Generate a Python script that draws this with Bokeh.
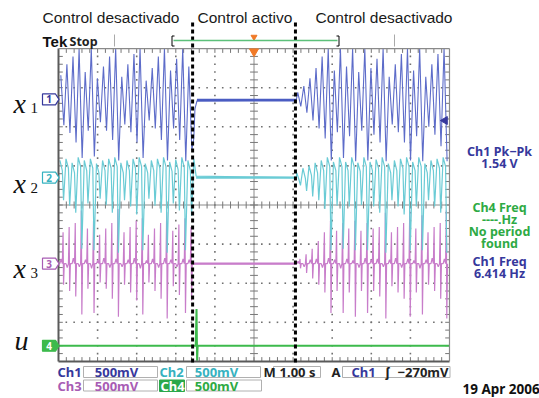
import numpy as np
from bokeh.plotting import figure
from bokeh.models import Range1d, Label
from bokeh.embed import file_html
from bokeh.resources import INLINE

# ---------------- data ----------------
ch1_freq_hz = 6.414          # "Ch1 Freq" readout
time_per_div_s = 1.00        # M 1.00 s
volts_per_div = 0.5          # every channel 500 mV/div
trigger_level_v = -0.27      # A Ch1 -270mV
t_control_on = 3.43          # s, control switched on
t_control_off = 6.06         # s, control switched off
t_pre_start = 0.02
t_post_start = 6.08

# channel ground markers, divisions from screen centre
ch_pos_div = [2.70, 0.70, -1.50, -3.60]

# Ch1 (x1): per-cycle maxima / minima, volts
ch1_pre_max = [0.31, 0.45, 0.55, 0.75, 0.35, 0.73, 0.27, 0.42, 0.55, 0.75, 0.29,
               0.45, 0.58, 0.75, 0.24, 0.40, 0.55, 0.75, 0.37, 0.52, 0.75, 0.42]
ch1_pre_min = [-0.33, -0.43, -0.55, -0.75, -0.40, -0.73, -0.29, -0.40, -0.52, -0.78, -0.32,
               -0.42, -0.55, -0.75, -0.27, -0.37, -0.52, -0.78, -0.37, -0.52, -0.79, -0.65]
ch1_post_max = [0.09, 0.17, 0.27, 0.40, 0.55, 0.75, 0.37, 0.73, 0.42, 0.75, 0.35, 0.73, 0.40,
                0.52, 0.75, 0.29, 0.45, 0.58, 0.75, 0.37, 0.75, 0.29, 0.45, 0.58, 0.75]
ch1_post_min = [-0.09, -0.17, -0.27, -0.37, -0.50, -0.78, -0.42, -0.75, -0.47, -0.79, -0.40, -0.78, -0.45,
                -0.55, -0.79, -0.32, -0.42, -0.55, -0.78, -0.47, -0.79, -0.35, -0.45, -0.60, -0.79]
ch1_on_t = [3.46, 3.49, 3.54]
ch1_on_v = [-0.50, -0.12, -0.02]
ch1_ctrl_v = -0.01

# Ch2 (x2): per-cycle peak, shoulder, dip, volts
ch2_pre_peak = [0.22, 0.24, 0.19, 0.26, 0.22, 0.24, 0.18, 0.22, 0.24, 0.26, 0.19,
                0.22, 0.24, 0.26, 0.18, 0.22, 0.24, 0.26, 0.20, 0.23, 0.26, 0.22]
ch2_pre_shoulder = [0.09, 0.12, 0.06, 0.14, 0.09, 0.12, 0.06, 0.09, 0.12, 0.14, 0.06,
                    0.09, 0.12, 0.14, 0.06, 0.09, 0.12, 0.14, 0.08, 0.10, 0.13, 0.09]
ch2_pre_dip = [-0.29, -0.36, -0.45, -0.91, -0.33, -0.93, -0.27, -0.35, -0.45, -0.96, -0.29,
               -0.37, -0.47, -0.93, -0.27, -0.36, -0.45, -0.96, -0.33, -0.42, -0.93, -0.49]
ch2_post_peak = [0.06, 0.12, 0.15, 0.19, 0.22, 0.26, 0.20, 0.26, 0.20, 0.26, 0.19, 0.26, 0.20,
                 0.23, 0.26, 0.18, 0.22, 0.24, 0.26, 0.20, 0.26, 0.18, 0.22, 0.24, 0.26]
ch2_post_shoulder = [-0.04, -0.01, 0.03, 0.06, 0.09, 0.14, 0.09, 0.14, 0.09, 0.14, 0.08, 0.14, 0.09,
                     0.12, 0.14, 0.06, 0.09, 0.12, 0.14, 0.09, 0.14, 0.06, 0.09, 0.12, 0.14]
ch2_post_dip = [-0.10, -0.17, -0.24, -0.29, -0.40, -0.93, -0.36, -0.91, -0.37, -0.93, -0.35, -0.93, -0.37,
                -0.45, -0.96, -0.29, -0.37, -0.47, -0.93, -0.37, -0.93, -0.29, -0.37, -0.45, -0.96]
ch2_on_t = [3.46, 3.52]
ch2_on_v = [0.24, 0.02]
ch2_ctrl_v = 0.0

# Ch3 (x3): per-cycle small wiggle, up spike, down spike, volts
ch3_pre_wig = [0.06, -0.05, 0.07, -0.04, 0.05, -0.06, 0.04, 0.07, -0.05, 0.06, -0.04,
               0.05, 0.07, -0.06, 0.04, 0.06, -0.05, 0.07, 0.05, -0.04, 0.06, 0.05]
ch3_pre_up = [0.40, 0.47, 0.52, 0.68, 0.45, 0.55, 0.37, 0.45, 0.52, 0.70, 0.40,
              0.47, 0.55, 0.58, 0.37, 0.45, 0.52, 0.66, 0.42, 0.50, 0.58, 0.47]
ch3_pre_down = [-0.27, -0.35, -0.42, -0.65, -0.32, -0.63, -0.24, -0.32, -0.45, -0.68, -0.27,
                -0.37, -0.47, -0.65, -0.24, -0.35, -0.45, -0.70, -0.29, -0.40, -0.63, -0.47]
ch3_post_wig = [0.03, -0.04, 0.05, 0.06, -0.05, 0.07, 0.05, -0.06, 0.06, 0.04, -0.05, 0.07, 0.05,
                0.06, -0.04, 0.05, 0.07, -0.05, 0.06, 0.04, -0.06, 0.05, 0.07, -0.04, 0.06]
ch3_post_up = [0.06, 0.12, 0.19, 0.29, 0.40, 0.55, 0.42, 0.52, 0.45, 0.55, 0.42, 0.52, 0.45,
               0.47, 0.65, 0.40, 0.47, 0.52, 0.68, 0.45, 0.62, 0.40, 0.47, 0.52, 0.68]
ch3_post_down = [-0.06, -0.12, -0.19, -0.27, -0.37, -0.63, -0.35, -0.63, -0.37, -0.68, -0.35, -0.63, -0.35,
                 -0.42, -0.70, -0.29, -0.37, -0.45, -0.68, -0.37, -0.65, -0.27, -0.35, -0.45, -0.70]
ch3_ctrl_v = 0.0

# Ch4 (u): control signal
ch4_t = [0.0, 3.51, 3.53, 3.545, 3.56, 10.0]
ch4_v = [0.0, 0.0, 0.47, -0.19, 0.0, 0.0]

# ---------------- styling ----------------
ch_color = ["#5d6cc9", "#6acbd5", "#c87dca", "#3dba4c"]
ch_text = ["#36389c", "#36b2c0", "#a85cb4", "#2eaa44"]

PX_PER_DIV = 39.1
X0_PX = 58.0
YC_PX = 204.5


def X(px):
    return (px - X0_PX) / PX_PER_DIV * time_per_div_s


def Y(py):
    return (YC_PX - py) / PX_PER_DIV


T = 1.0 / ch1_freq_hz


def ch1_cycles(maxs, mins, t_start):
    t, v = [], []
    for k, (a, b) in enumerate(zip(maxs, mins)):
        t0 = t_start + k * T
        t += [t0 + 0.25 * T, t0 + 0.75 * T]
        v += [a, b]
    return t, v


def ch2_cycles(peaks, shoulders, dips, t_start):
    t, v = [], []
    for k, (a, b, c) in enumerate(zip(peaks, shoulders, dips)):
        t0 = t_start + k * T
        t += [t0 + 0.1 * T, t0 + 0.5 * T, t0 + 0.7 * T]
        v += [a, b, c]
    return t, v


def ch3_cycles(wigs, ups, downs, t_start, base):
    t, v = [], []
    for k, (w, a, b) in enumerate(zip(wigs, ups, downs)):
        t0 = t_start + k * T
        t += [t0 + 0.1 * T, t0 + 0.3 * T, t0 + 0.5 * T, t0 + 0.62 * T, t0 + 0.7 * T, t0 + 0.82 * T]
        v += [base, w, base, a, b, base]
    return t, v


def to_div(v, ch):
    return np.clip(ch_pos_div[ch] + np.asarray(v) / volts_per_div, -4.0, 4.0)


# assemble traces
t1a, v1a = ch1_cycles(ch1_pre_max, ch1_pre_min, t_pre_start)
t1b, v1b = ch1_cycles(ch1_post_max, ch1_post_min, t_post_start)
ch1_t = t1a + ch1_on_t + [t_post_start] + t1b
ch1_v = v1a + ch1_on_v + [ch1_ctrl_v] + v1b

t2a, v2a = ch2_cycles(ch2_pre_peak, ch2_pre_shoulder, ch2_pre_dip, t_pre_start)
t2b, v2b = ch2_cycles(ch2_post_peak, ch2_post_shoulder, ch2_post_dip, t_post_start)
ch2_t = t2a + ch2_on_t + [t_post_start] + t2b
ch2_v = v2a + ch2_on_v + [ch2_ctrl_v] + v2b

t3a, v3a = ch3_cycles(ch3_pre_wig, ch3_pre_up, ch3_pre_down, t_pre_start, ch3_ctrl_v)
t3b, v3b = ch3_cycles(ch3_post_wig, ch3_post_up, ch3_post_down, t_post_start, ch3_ctrl_v)
ch3_t = t3a + [t_post_start] + t3b
ch3_v = v3a + [ch3_ctrl_v] + v3b

pkpk = max(ch1_v) - min(ch1_v)

# ---------------- figure ----------------
p = figure(width=539, height=398,
           x_range=Range1d(X(0), X(539)), y_range=Range1d(Y(398), Y(0)),
           output_backend="svg", toolbar_location=None,
           x_axis_location=None, y_axis_location=None,
           min_border=0, outline_line_color=None,
           background_fill_color="white", border_fill_color="white")
p.grid.visible = False

# graticule: dotted division lines (dots at every minor division)
gx = [t for t in range(1, 10) if t != 5]
gy = [d for d in range(-3, 4) if d != 0]
mx = np.round(np.arange(0.2, 10.0, 0.2), 2)
my = np.round(np.arange(-3.8, 4.0, 0.2), 2)
dot_x = [g for g in gx for _ in my] + [m for _ in gy for m in mx]
dot_y = [m for _ in gx for m in my] + [g for g in gy for _ in mx]
p.scatter(x=dot_x, y=dot_y, marker="square", size=1.6, fill_color="#707070", line_color=None)

# centre cross and rulers
p.line([5, 5], [-4, 4], line_color="#8a8a8a", line_width=1)
p.line([0, 10], [0, 0], line_color="#8a8a8a", line_width=1)
p.segment(x0=mx, x1=mx, y0=-0.09, y1=0.09, line_color="#777", line_width=1)
p.segment(x0=4.9, x1=5.1, y0=my, y1=my, line_color="#777", line_width=1)
p.segment(x0=mx, x1=mx, y0=4.0, y1=3.89, line_color="#777", line_width=1)
p.segment(x0=mx, x1=mx, y0=-4.0, y1=-3.89, line_color="#777", line_width=1)
p.segment(x0=0.0, x1=0.11, y0=my, y1=my, line_color="#777", line_width=1)
p.segment(x0=10.0, x1=9.89, y0=my, y1=my, line_color="#777", line_width=1)

# traces
p.line(ch4_t, to_div(ch4_v, 3), line_color=ch_color[3], line_width=2)
p.line(ch3_t, to_div(ch3_v, 2), line_color=ch_color[2], line_width=1.2)
p.line([t3a[-1], t_post_start], to_div([ch3_ctrl_v, ch3_ctrl_v], 2), line_color=ch_color[2], line_width=2.2)
p.line(ch2_t, to_div(ch2_v, 1), line_color=ch_color[1], line_width=1.2)
p.line([ch2_on_t[-1], t_post_start], to_div([ch2_ctrl_v, ch2_ctrl_v], 1), line_color=ch_color[1], line_width=2.2)
p.line(ch1_t, to_div(ch1_v, 0), line_color=ch_color[0], line_width=1.1)
p.line([ch1_on_t[-1], t_post_start], to_div([ch1_ctrl_v, ch1_ctrl_v], 0), line_color="#4a5cc2", line_width=2.8)

# screen border
p.line([0, 0], [-4, 4], line_color="#5a5a5a", line_width=2)
p.line([0, 10], [-4, -4], line_color="#5a5a5a", line_width=2)
p.line([0, 10], [4, 4], line_color="#8a8a8a", line_width=1.2)
p.line([10, 10], [-4, 4], line_color="#8a8a8a", line_width=1.2)

# control switching instants
p.segment(x0=[t_control_on, t_control_off], x1=[t_control_on, t_control_off],
          y0=Y(362), y1=Y(21), line_color="black", line_width=3, line_dash="4 3")

# trigger position / level markers
p.scatter(x=[5.0], y=[Y(51)], marker="inverted_triangle", size=9, fill_color="#f07a28", line_color="#f07a28")
p.scatter(x=[5.0], y=[Y(36.5)], marker="inverted_triangle", size=6, fill_color="#f07a28", line_color="#f07a28")
p.scatter(x=[X(444.5)], y=[ch_pos_div[0] + trigger_level_v / volts_per_div], marker="triangle",
          angle=np.pi / 2, size=8, fill_color=ch_text[0], line_color=ch_text[0])

# record bar
p.segment(x0=[X(114), X(394)], x1=[X(114), X(394)], y0=Y(34), y1=Y(46), line_color="#aaaaaa", line_width=1)
p.line([X(173), X(337)], [Y(40), Y(40)], line_color="#5cc07a", line_width=1.5)
p.line([X(174), X(171.5), X(171.5), X(174)], [Y(35.5), Y(35.5), Y(45.5), Y(45.5)], line_color="black", line_width=1)
p.line([X(336), X(338.5), X(338.5), X(336)], [Y(35.5), Y(35.5), Y(45.5), Y(45.5)], line_color="black", line_width=1)

# channel ground markers
mk_xs, mk_ys = [], []
for d in ch_pos_div:
    mk_xs.append([X(42), X(55), X(58.5), X(55), X(42)])
    mk_ys.append([d + 0.14, d + 0.14, d, d - 0.14, d - 0.14])
p.patches(mk_xs, mk_ys, fill_color=["white", "white", "white", ch_color[3]],
          line_color=ch_text[:3] + [ch_color[3]], line_width=1.2)


def txt(px, py, s, size="13px", color="#222222", font="Noto Sans", style="bold",
        align="left", baseline="middle"):
    p.add_layout(Label(x=X(px), y=Y(py), text=s, text_font=font, text_font_size=size,
                       text_font_style=style, text_color=color, text_align=align,
                       text_baseline=baseline))


for i, d in enumerate(ch_pos_div):
    p.add_layout(Label(x=X(48.5), y=d, text=str(i + 1), text_font="Noto Sans", text_font_size="10px",
                       text_font_style="bold", text_color="white" if i == 3 else ch_text[i],
                       text_align="center", text_baseline="middle"))

# titles
txt(42, 17, "Control desactivado", size="15.5px", font="Liberation Sans", style="normal", color="#1a1a1a")
txt(197, 17, "Control activo", size="15.5px", font="Liberation Sans", style="normal", color="#1a1a1a")
txt(315, 17, "Control desactivado", size="15.5px", font="Liberation Sans", style="normal", color="#1a1a1a")
txt(42, 40.5, "Tek", size="15px", font="Liberation Sans", color="#111111")
txt(69, 40.5, "Stop", size="12.5px", color="#222222")

# left variable labels
for lab, sub, base in [("x", "1", 103), ("x", "2", 183), ("x", "3", 268)]:
    txt(13, base, lab, size="28px", font="Liberation Serif", style="italic", color="#111111", baseline="alphabetic")
    txt(30, base + 4, sub, size="15px", font="Liberation Serif", style="normal", color="#111111", baseline="alphabetic")
txt(14, 340, "u", size="28px", font="Liberation Serif", style="italic", color="#111111", baseline="alphabetic")

# right readouts
txt(499, 151, "Ch1 Pk\u2212Pk", size="12.5px", color=ch_text[0], align="center")
txt(499, 163, f"{pkpk:.2f} V", size="12.5px", color=ch_text[0], align="center")
txt(499, 207, "Ch4 Freq", size="12.5px", color=ch_text[3], align="center")
txt(499, 219, "----.Hz", size="12.5px", color=ch_text[3], align="center")
txt(499, 231, "No period", size="12.5px", color=ch_text[3], align="center")
txt(499, 243, "found", size="12.5px", color=ch_text[3], align="center")
txt(499, 261, "Ch1 Freq", size="12.5px", color=ch_text[0], align="center")
txt(499, 273, f"{ch1_freq_hz:.3f} Hz", size="12.5px", color=ch_text[0], align="center")

# bottom readout boxes
p.quad(left=[X(83), X(186), X(273), X(342), X(83), X(186)],
       right=[X(157), X(260), X(320), X(449.5), X(157), X(261)],
       top=[Y(366), Y(366), Y(366), Y(366), Y(379.5), Y(379.5)],
       bottom=[Y(377), Y(377), Y(377), Y(377), Y(390.5), Y(390.5)],
       fill_color="white", line_color="#b0b0b0", line_width=1)
p.quad(left=[X(159)], right=[X(184)], top=[Y(379.5)], bottom=[Y(391)],
       fill_color="#2aa84a", line_color="#2aa84a")

mv = f"{int(volts_per_div * 1000)}mV"
txt(57, 371.5, "Ch1", color=ch_text[0])
txt(116, 371.5, mv, color=ch_text[0], align="center")
txt(159, 371.5, "Ch2", color=ch_text[1])
txt(216, 371.5, mv, color=ch_text[1], align="center")
txt(263, 371.5, "M", color="#222222")
txt(297, 371.5, f"{time_per_div_s:.2f} s", color="#222222", align="center")
txt(331, 371.5, "A", color="#222222")
txt(351, 371.5, "Ch1", color=ch_text[0])
txt(387, 371.5, "\u0283", color="#222222", align="center")
txt(397, 371.5, f"\u2212{int(-trigger_level_v * 1000)}mV", color="#222222")
txt(57, 385, "Ch3", color=ch_text[2])
txt(116, 385, mv, color=ch_text[2], align="center")
txt(160, 385, "Ch4", color="white")
txt(216, 385, mv, color=ch_text[3], align="center")
txt(462, 388.5, "19 Apr 2006", size="13.5px", color="#111111")

open("out.html", "w").write(file_html(p, INLINE))
